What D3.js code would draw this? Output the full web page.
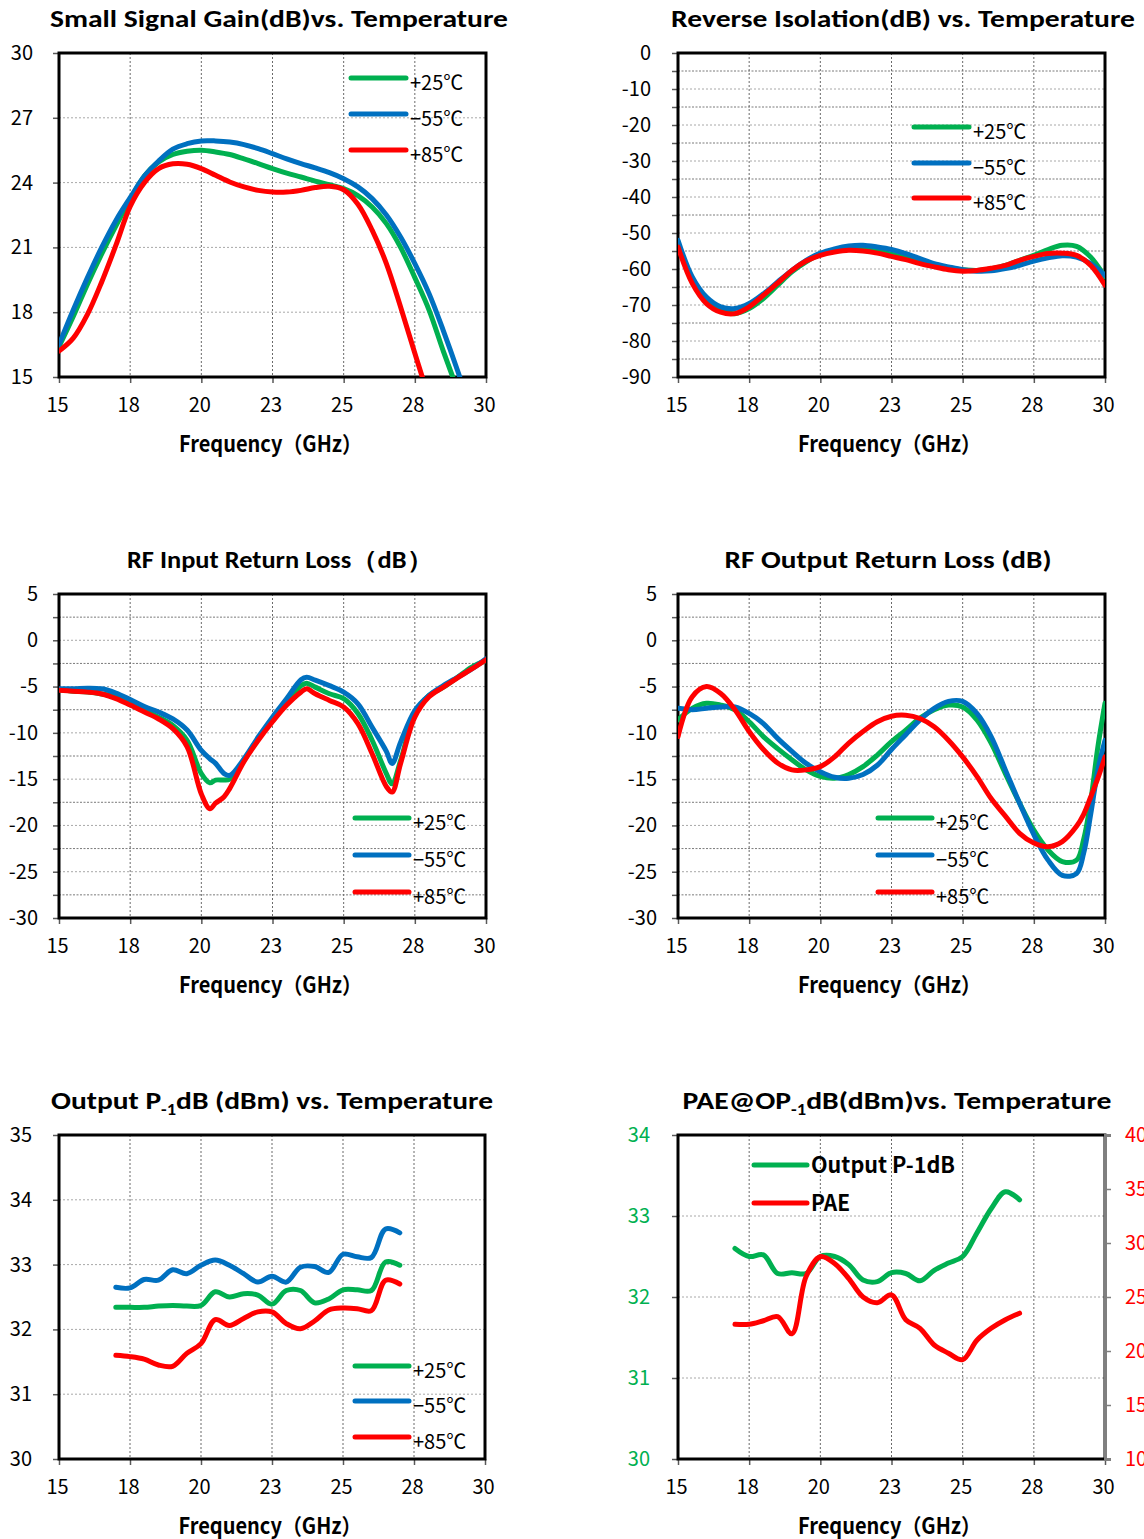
<!DOCTYPE html>
<html>
<head>
<meta charset="utf-8">
<script src="https://cdn.jsdelivr.net/npm/d3@7"></script>
<style>
  body { margin: 0; background: #fff; }
</style>
</head>
<body>
<svg id="chart" width="1144" height="1539"></svg>
<script>
// ---- data ----
const xTicks = [15, 17.5, 20, 22.5, 25, 27.5, 30];

// small signal gain
const gainFreq = [15,15.5,16,16.5,17,17.5,18,18.5,19,19.5,20,20.5,21,21.5,22,22.5,23,23.5,24,24.5,25,25.5,26,26.5,27,27.5,28,28.5,29,29.5];
const gain25 = [16.4,17.8,19.3,20.7,22.0,23.2,24.3,24.95,25.3,25.45,25.5,25.42,25.3,25.1,24.88,24.65,24.44,24.26,24.07,23.9,23.72,23.4,22.87,22.1,21.0,19.6,18.1,16.2,14.4,12.5];
const gainM55 = [16.5,18.1,19.6,21.0,22.25,23.3,24.3,25.0,25.55,25.8,25.93,25.93,25.88,25.76,25.57,25.34,25.1,24.88,24.68,24.46,24.18,23.8,23.26,22.5,21.48,20.25,18.86,17.15,15.3,13.3];
const gain85 = [16.2,16.8,17.9,19.4,21.1,22.9,24.0,24.65,24.87,24.85,24.65,24.34,24.03,23.8,23.64,23.56,23.56,23.64,23.77,23.83,23.67,23.0,21.8,20.25,18.24,16.1,14.0,12.0,10.0,8.0];
const gainTicks = [15, 18, 21, 24, 27, 30];

// reverse isolation
const isoFreq = [15,15.5,16,16.5,17,17.5,18,18.5,19,19.5,20,20.5,21,21.5,22,22.5,23,23.5,24,24.5,25,25.5,26,26.5,27,27.5,28,28.5,29,29.5,30];
const iso25 = [-53,-63,-69,-71.5,-72.4,-71,-68.2,-64.5,-60.8,-58,-55.9,-55,-54.4,-54.6,-55,-55.9,-56.9,-58,-59.2,-59.9,-60.2,-60.4,-59.9,-59,-57.6,-56.2,-54.6,-53.4,-53.7,-56.7,-62.2];
const isoM55 = [-52,-62.2,-67.8,-70.5,-71,-69.6,-66.9,-63.6,-60.4,-57.6,-55.6,-54.4,-53.6,-53.4,-53.9,-54.6,-55.7,-57.1,-58.5,-59.4,-60.2,-60.6,-60.5,-59.9,-59,-57.8,-56.9,-56.3,-56.7,-58.5,-61.8];
const iso85 = [-53.9,-64,-69.6,-72,-72.4,-70.5,-67.3,-63.9,-60.4,-57.8,-56.2,-55.3,-54.8,-55,-55.6,-56.5,-57.4,-58.5,-59.4,-60.2,-60.6,-60.4,-59.8,-59,-57.6,-56.5,-55.7,-55.6,-56.2,-59,-64.5];
const isoTicks = [-90,-80,-70,-60,-50,-40,-30,-20,-10,0];
const isoMinor = [-85,-75,-65,-55,-45,-35,-25,-15,-5];

// input return loss
const inFreq = [15,15.5,16,16.5,17,17.5,18,18.5,19,19.5,20,20.3,20.5,20.8,21,21.5,22,22.5,23,23.5,23.7,24,24.5,25,25.5,26,26.5,26.7,27,27.5,28,28.5,29,29.5,30];
const in25 = [-5.35,-5.5,-5.6,-5.8,-6.1,-6.86,-7.6,-8.3,-9.2,-10.8,-14.4,-15.4,-15.1,-15.1,-15.0,-12.97,-10.6,-8.65,-6.7,-4.9,-4.63,-5.06,-5.78,-6.3,-7.9,-10.8,-14.4,-15.5,-13,-7.9,-5.96,-5.06,-4.0,-2.9,-2.2];
const inM55 = [-5.24,-5.24,-5.17,-5.24,-5.7,-6.4,-7.15,-7.75,-8.5,-9.7,-11.9,-12.8,-13.3,-14.4,-14.6,-12.8,-10.45,-8.3,-6.3,-4.27,-4.0,-4.3,-4.9,-5.6,-6.86,-9.4,-12.0,-13.3,-11.0,-7.6,-5.96,-4.9,-4.0,-3.1,-2.0];
const in85 = [-5.4,-5.5,-5.6,-5.8,-6.3,-7.0,-7.75,-8.5,-9.55,-11.5,-16.6,-18.2,-17.6,-16.9,-16.0,-13.1,-10.8,-8.8,-7.0,-5.6,-5.24,-5.78,-6.5,-7.2,-9.0,-12.25,-15.8,-16.4,-13.3,-8.3,-6.1,-5.06,-4.05,-3.1,-2.1];
const rlTicks = [-30,-25,-20,-15,-10,-5,0,5];
const rlMinor = [-27.5,-22.5,-17.5,-12.5,-7.5,-2.5,2.5];

// output return loss
const outFreq = [15,15.5,16,16.5,17,17.5,18,18.5,19,19.5,20,20.5,21,21.5,22,22.5,23,23.5,24,24.5,25,25.5,26,26.5,27,27.5,28,28.5,29,29.25,29.5,29.75,30];
const out25 = [-8.6,-7.35,-6.8,-7.0,-7.5,-8.8,-10.4,-11.7,-12.9,-14.0,-14.7,-14.9,-14.5,-13.65,-12.4,-10.95,-9.7,-8.4,-7.5,-7.0,-7.2,-8.6,-11.1,-14.4,-17.6,-20.5,-22.65,-23.9,-23.75,-21.5,-17.3,-11.5,-6.8];
const outM55 = [-7.35,-7.5,-7.35,-7.2,-7.2,-7.9,-9.0,-10.6,-12.0,-13.3,-14.2,-14.8,-14.9,-14.5,-13.5,-11.8,-10.2,-8.6,-7.35,-6.6,-6.6,-7.9,-10.4,-14.0,-17.6,-21.0,-23.75,-25.4,-25.2,-23.0,-18.75,-14.0,-10.8];
const out85 = [-10.4,-6.1,-5.0,-5.75,-7.5,-9.85,-11.8,-13.25,-14.0,-14.0,-13.65,-12.6,-11.1,-9.85,-8.8,-8.2,-8.1,-8.45,-9.35,-10.8,-12.6,-14.7,-17.1,-19.0,-20.85,-21.9,-22.3,-21.75,-20.1,-18.8,-16.9,-14.9,-12.6];

// output P-1dB
const pFreq = [17,17.5,18,18.5,19,19.5,20,20.5,21,21.5,22,22.5,23,23.5,24,24.5,25,25.5,26,26.5,27];
const p25 = [32.34,32.34,32.34,32.36,32.37,32.36,32.37,32.58,32.5,32.55,32.53,32.39,32.6,32.6,32.41,32.47,32.61,32.61,32.6,33.04,32.99];
const pM55 = [32.65,32.64,32.77,32.76,32.92,32.86,32.99,33.07,32.99,32.86,32.73,32.82,32.73,32.96,32.97,32.88,33.16,33.12,33.11,33.55,33.49];
const p85 = [31.6,31.58,31.54,31.45,31.43,31.63,31.78,32.15,32.06,32.17,32.27,32.27,32.09,32.01,32.13,32.3,32.33,32.32,32.29,32.76,32.7];
const pTicks = [30,31,32,33,34,35];

// PAE @ OP-1dB
const opP1 = [32.6,32.5,32.52,32.29,32.3,32.29,32.5,32.5,32.4,32.21,32.19,32.3,32.29,32.2,32.33,32.42,32.5,32.79,33.09,33.3,33.2];
const pae = [22.47,22.47,22.8,23.18,21.6,26.9,28.73,28.1,26.7,25.0,24.47,25.2,22.9,22.1,20.56,19.8,19.2,21.0,22.1,22.9,23.5];
const opTicks = [30,31,32,33,34];
const paeTicks = [10,15,20,25,30,35,40];

// ---- drawing ----
const GREEN = "#00b050", BLUE = "#0070c0", RED = "#ff0000";
const H = 324;
const svg = d3.select("#chart");
const tickFont = "'Noto Sans CJK JP', 'Noto Sans', sans-serif";
const titleFont = "Carlito, Calibri, 'Noto Sans', sans-serif";

function zip(xs, ys) { return xs.map((f, i) => [f, ys[i]]); }

function panel(p) {
  const w = p.w || 427;
  const g = svg.append("g").attr("transform", `translate(${p.left},${p.top})`);
  const x = d3.scaleLinear().domain([15, 30]).range([0, w]);
  const y = d3.scaleLinear().domain(p.yDomain).range([H, 0]);

  // grid
  if (p.yMinor) {
    g.append("g").selectAll("line").data(p.yMinor).join("line")
      .attr("x1", 0).attr("x2", w).attr("y1", d => y(d)).attr("y2", d => y(d))
      .attr("stroke", "#7a7a7a").attr("stroke-dasharray", "2,1.5");
  }
  g.append("g").selectAll("line").data(p.yTicks.slice(1, -1)).join("line")
    .attr("x1", 0).attr("x2", w).attr("y1", d => y(d)).attr("y2", d => y(d))
    .attr("stroke", "#a8a8a8").attr("stroke-dasharray", "2,2");
  g.append("g").selectAll("line").data(xTicks.slice(1, -1)).join("line")
    .attr("y1", 0).attr("y2", H).attr("x1", d => x(d)).attr("x2", d => x(d))
    .attr("stroke", "#6a6a6a").attr("stroke-dasharray", "2,2");

  // axes
  const xa = g.append("g").attr("transform", `translate(0,${H})`)
    .call(d3.axisBottom(x).tickValues(xTicks).tickSize(6).tickPadding(15)
      .tickFormat(d => Math.round(d)));
  const major = new Set(p.yTicks);
  const ya = g.append("g")
    .call(d3.axisLeft(y).tickValues(p.yTicks.concat(p.yMinor || [])).tickSize(6)
      .tickPadding(p.pad).tickFormat(d => major.has(d) ? d : ""));
  [xa, ya].forEach(a => {
    a.select(".domain").remove();
    a.selectAll("line").attr("stroke", "#595959").attr("stroke-width", 1.5);
    a.selectAll("text").attr("font-family", tickFont).attr("font-size", 20)
      .attr("fill", "#000");
  });
  xa.selectAll("text").attr("dx", -2);
  if (p.leftColor) ya.selectAll("text").attr("fill", p.leftColor);

  // frame
  g.append("rect").attr("width", w).attr("height", H)
    .attr("fill", "none").attr("stroke", "#000").attr("stroke-width", 3);

  // secondary axis
  if (p.y2Domain) {
    const y2 = d3.scaleLinear().domain(p.y2Domain).range([H, 0]);
    const ra = g.append("g").attr("transform", `translate(${w},0)`)
      .call(d3.axisRight(y2).tickValues(p.y2Ticks).tickSize(6).tickPadding(14));
    ra.select(".domain").attr("stroke", "#7f7f7f").attr("stroke-width", 3);
    ra.selectAll("line").attr("stroke", "#7f7f7f").attr("stroke-width", 1.5);
    ra.selectAll("text").attr("font-family", tickFont).attr("font-size", 20)
      .attr("fill", RED);
    p.series.forEach(s => { if (s.right) s.scale = y2; });
  }

  // series
  const clipId = "clip" + p.left + "_" + p.top;
  g.append("clipPath").attr("id", clipId).append("rect").attr("width", w).attr("height", H);
  const lines = g.append("g").attr("clip-path", `url(#${clipId})`);
  p.series.forEach(s => {
    const ys = s.scale || y;
    const line = d3.line().x(d => x(d[0])).y(d => ys(d[1]))
      .curve(d3.curveCatmullRom.alpha(0.5));
    lines.append("path").datum(zip(s.x, s.y)).attr("d", line)
      .attr("fill", "none").attr("stroke", s.color).attr("stroke-width", 5)
      .attr("stroke-linecap", "round").attr("stroke-linejoin", "round");
  });

  // legend
  const lg = p.legend;
  p.series.forEach((s, i) => {
    const ly = lg.y[i];
    svg.append("line").attr("x1", lg.x1).attr("x2", lg.x2).attr("y1", ly).attr("y2", ly)
      .attr("stroke", s.color).attr("stroke-width", 5).attr("stroke-linecap", "round");
    const t = svg.append("text").attr("x", lg.x2 + 4).attr("y", ly + (lg.dy || 12))
      .attr("font-family", tickFont).attr("font-size", lg.size || 20)
      .attr("font-weight", lg.bold ? 700 : 400).text(s.name);
    if (lg.len) t.attr("textLength", lg.len[i]).attr("lengthAdjust", "spacingAndGlyphs");
  });

  // title
  const tt = svg.append("text").attr("x", p.titleX).attr("y", p.top - 26)
    .attr("text-anchor", "middle").attr("font-family", titleFont)
    .attr("font-weight", 700).attr("font-size", 24)
    .attr("textLength", p.titleLen).attr("lengthAdjust", "spacingAndGlyphs");
  p.title.forEach(part => {
    const ts = tt.append("tspan").text(part.t);
    if (part.sub) ts.attr("font-size", 15).attr("dy", 6);
    if (part.after) ts.attr("dy", -6);
  });

  // x axis title
  svg.append("text").attr("x", p.left + w / 2 - 2).attr("y", p.top + H + 75)
    .attr("text-anchor", "middle").attr("font-family", tickFont)
    .attr("font-weight", 700).attr("font-size", 22)
    .attr("textLength", 183).attr("lengthAdjust", "spacingAndGlyphs")
    .text("Frequency（GHz）");
}

function temps(xs, a, b, c) {
  return [
    { x: xs, y: a, color: GREEN, name: "+25℃" },
    { x: xs, y: b, color: BLUE, name: "−55℃" },
    { x: xs, y: c, color: RED, name: "+85℃" }
  ];
}

panel({
  left: 59, top: 53, yDomain: [15, 30], yTicks: gainTicks, pad: 20,
  series: temps(gainFreq, gain25, gainM55, gain85),
  legend: { x1: 351, x2: 406, y: [78, 114, 150] },
  title: [{ t: "Small Signal Gain(dB)vs. Temperature" }], titleX: 279, titleLen: 458
});

panel({
  left: 678, top: 53, yDomain: [-90, 0], yTicks: isoTicks, yMinor: isoMinor, pad: 21,
  series: temps(isoFreq, iso25, isoM55, iso85),
  legend: { x1: 914, x2: 969, y: [127, 163, 198] },
  title: [{ t: "Reverse Isolation(dB) vs. Temperature" }], titleX: 903, titleLen: 464
});

panel({
  left: 59, top: 594, yDomain: [-30, 5], yTicks: rlTicks, yMinor: rlMinor, pad: 15,
  series: temps(inFreq, in25, inM55, in85),
  legend: { x1: 355, x2: 409, y: [818, 855, 892] },
  title: [{ t: "RF Input Return Loss（dB）" }], titleX: 280, titleLen: 306
});

panel({
  left: 678, top: 594, yDomain: [-30, 5], yTicks: rlTicks, yMinor: rlMinor, pad: 15,
  series: temps(outFreq, out25, outM55, out85),
  legend: { x1: 878, x2: 932, y: [818, 855, 892] },
  title: [{ t: "RF Output Return Loss (dB)" }], titleX: 888, titleLen: 327
});

panel({
  left: 59, top: 1135, w: 426, yDomain: [30, 35], yTicks: pTicks, pad: 21,
  series: temps(pFreq, p25, pM55, p85),
  legend: { x1: 355, x2: 409, y: [1366, 1401, 1437] },
  title: [{ t: "Output P" }, { t: "-1", sub: true }, { t: "dB (dBm) vs. Temperature", after: true }],
  titleX: 272, titleLen: 442
});

panel({
  left: 678, top: 1135, yDomain: [30, 34], yTicks: opTicks, pad: 22, leftColor: GREEN,
  y2Domain: [10, 40], y2Ticks: paeTicks,
  series: [
    { x: pFreq, y: opP1, color: GREEN, name: "Output P-1dB" },
    { x: pFreq, y: pae, color: RED, name: "PAE", right: true }
  ],
  legend: { x1: 754, x2: 807, y: [1165, 1203], dy: 8, size: 22, bold: true, len: [144, 39] },
  title: [{ t: "PAE@OP" }, { t: "-1", sub: true }, { t: "dB(dBm)vs. Temperature", after: true }],
  titleX: 897, titleLen: 429
});
</script>
</body>
</html>
